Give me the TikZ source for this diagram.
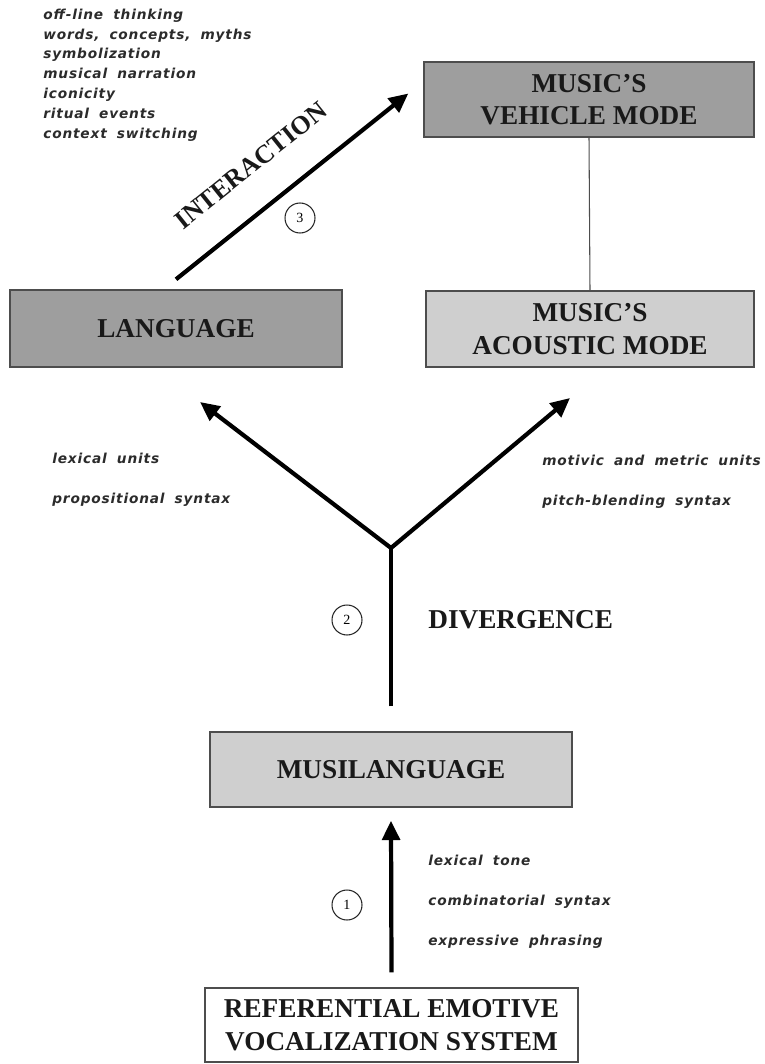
\documentclass[tikz,border=0pt]{standalone}
\usepackage{fontspec}
\setmainfont{Liberation Serif}
\newfontfamily\notefont[LetterSpace=6,WordSpace=1.8]{DejaVu Sans}
\usetikzlibrary{positioning}
\usetikzlibrary{arrows.meta}
\usetikzlibrary{calc}
\definecolor{darkfill}{HTML}{9E9E9E}
\definecolor{lightfill}{HTML}{CFCFCF}
\definecolor{rim}{HTML}{4D4D4D}
\definecolor{inkgray}{HTML}{2B2B2B}

\begin{document}
\begin{tikzpicture}[x=0.02cm, y=-0.02cm,
                    stage/.style={draw=rim, line width=0.8pt, align=center, text=black!90,
                                  font=\fontsize{15.5}{18.5}\selectfont\bfseries, inner sep=0pt},
                    bigword/.style={font=\fontsize{15.5}{18.5}\selectfont\bfseries, text=black!90, inner sep=0pt},
                    flow/.style={line width=2.4pt, -{Triangle[length=11pt, width=10pt]}},
                    phase/.style={circle, draw=black!85, line width=0.6pt, minimum size=0.6cm,
                                  inner sep=0pt, font=\footnotesize},
                    note/.style={anchor=west, inner sep=0pt, align=left, text=inkgray,
                                 font=\notefont\bfseries\itshape\fontsize{7.8}{22.7}\selectfont},
                    notelist/.style={note, font=\notefont\bfseries\itshape\fontsize{7.8}{11.3}\selectfont}]

  \useasboundingbox (0,0) rectangle (764,1064);

  % the five stages
  \node[stage, fill=darkfill, minimum width=6.6cm, minimum height=1.5cm]   (vehicle)  at (589,99.5)  {MUSIC’S\\VEHICLE MODE};
  \node[stage, fill=lightfill, minimum width=6.56cm, minimum height=1.52cm] (acoustic) at (590,329)   {MUSIC’S\\ACOUSTIC MODE};
  \node[stage, fill=darkfill, minimum width=6.64cm, minimum height=1.54cm]  (lang)     at (176,328.5) {LANGUAGE};
  \node[stage, fill=lightfill, minimum width=7.24cm, minimum height=1.5cm]  (musil)    at (391,769.5) {MUSILANGUAGE};
  \node[stage, fill=white, minimum width=7.46cm, minimum height=1.48cm]     (revs)     at (391.5,1025) {REFERENTIAL EMOTIVE\\VOCALIZATION SYSTEM};

  \draw[draw=rim, line width=0.6pt] (vehicle.south) -- (acoustic.north);

  % step 1
  \coordinate[above=0.3cm of revs.north]  (risefoot);
  \coordinate[below=0.26cm of musil.south] (risehead);
  \draw[flow] (risefoot) -- (risehead);
  \node[phase] (p1) at (347,905) {1};
  \node[note] (protounits) at (428,902) {lexical tone\\combinatorial syntax\\expressive phrasing};

  % step 2
  \coordinate[above=0.5cm of musil.north] (stem);
  \coordinate (fork)    at (391,548);
  \coordinate (langtip) at (200,402);
  \coordinate (acoutip) at (570,398);
  \draw[line width=2.4pt] (stem) -- (fork);
  \draw[line width=2.4pt, {Triangle[length=11pt, width=10pt]}-{Triangle[length=11pt, width=10pt]}]
    (langtip) -- (fork) -- (acoutip);
  \node[phase] (p2) at (347,620) {2};
  \node[bigword, anchor=west] (divlbl) at (428,620) {DIVERGENCE};
  \node[note] (langunits) at (52,480)  {lexical units\\propositional syntax};
  \node[note] (musunits)  at (542,482) {motivic and metric units\\pitch-blending syntax};

  % step 3
  \coordinate[above=0.2cm of lang.north] (interfoot);
  \coordinate (interhead) at ($(vehicle.west)+(-15,-6)$);
  \draw[flow] (interfoot) -- (interhead);
  \node[bigword, font=\fontsize{14.8}{18}\selectfont\bfseries, rotate=38.7, anchor=base]
    (interlbl) at (256,172) {INTERACTION};
  \node[phase] (p3) at (300,218) {3};
  \node[notelist] (offline) at (43,75)
    {off-line thinking\\words, concepts, myths\\symbolization\\musical narration\\iconicity\\ritual events\\context switching};

\end{tikzpicture}
\end{document}
